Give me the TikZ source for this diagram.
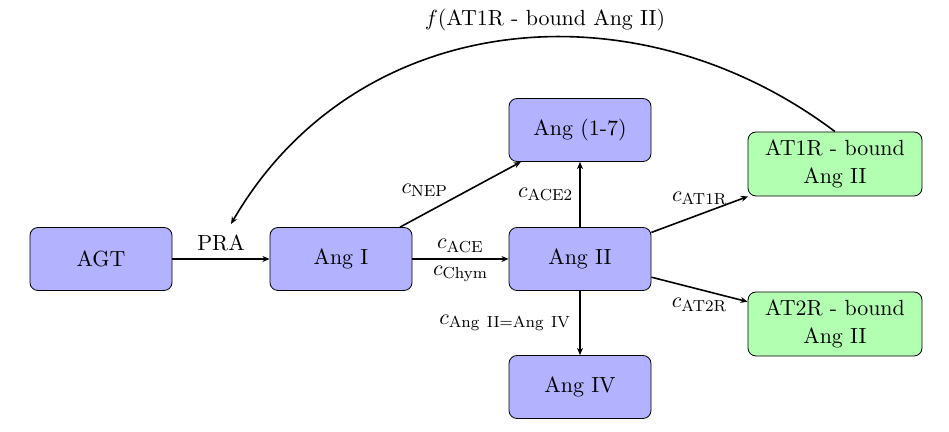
\documentclass[tikz,border=0pt,11pt]{standalone}
\usetikzlibrary{arrows.meta}
\begin{document}
\begin{tikzpicture}[x=1pt,y=1pt,
  bluebox/.style={draw, rounded corners=4pt, fill=blue!30, minimum width=71pt, minimum height=31.5pt, inner sep=2pt},
  greenbox/.style={draw, rounded corners=4pt, fill=green!30, minimum width=87pt, minimum height=32pt, inner sep=2pt, align=center},
  conn/.style={thick, -{Stealth[length=3.6pt,width=3pt]}},
  lbl/.style={inner sep=2pt}]
\useasboundingbox (0,0) rectangle (474.5,-216);
\node[bluebox] (agt)  at (50.5,-129.5) {AGT};
\node[bluebox] (ang1) at (170.5,-129.5) {Ang I};
\node[bluebox] (ang2) at (290,-129.5) {Ang II};
\node[bluebox] (ang17) at (290,-65) {Ang (1-7)};
\node[bluebox] (ang4) at (290,-193.5) {Ang IV};
\node[greenbox] (at1r) at (417.5,-82) {AT1R - bound\\Ang II};
\node[greenbox] (at2r) at (417.5,-162) {AT2R - bound\\Ang II};
\coordinate (praend) at (115.5,-112);

\draw[conn] (agt) -- node[lbl, above=1.5pt] {PRA} (ang1);
\draw[conn] (ang1) -- node[lbl, above=1pt] {$c_{\mathrm{ACE}}$} node[lbl, below=1pt] {$c_{\mathrm{Chym}}$} (ang2);
\draw[conn] (ang1) -- node[lbl, pos=0.42, above left, inner sep=1pt] {$c_{\mathrm{NEP}}$} (ang17);
\draw[conn] (ang2) -- node[lbl, left, inner sep=3pt] {$c_{\mathrm{ACE2}}$} (ang17);
\draw[conn] (ang2) -- node[lbl, left, inner sep=4pt] {$c_{\mathrm{Ang~II=Ang~IV}}$} (ang4);
\draw[conn] (ang2) -- node[lbl, above=2.5pt] {$c_{\mathrm{AT1R}}$} (at1r);
\draw[conn] (ang2) -- node[lbl, below=2pt] {$c_{\mathrm{AT2R}}$} (at2r);
\draw[conn] (at1r.north) .. controls (317.5,9.5) and (178,-4.25) .. node[pos=0.44, above, inner sep=2.5pt] {$f$(AT1R - bound Ang II)} (praend);
\end{tikzpicture}
\end{document}
